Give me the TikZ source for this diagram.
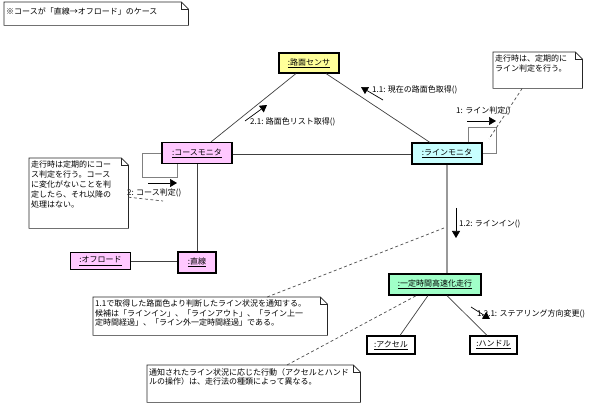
\documentclass[tikz,border=0pt]{standalone}
\usepackage{fontspec}
\setmainfont{Noto Sans CJK JP}
\usetikzlibrary{arrows.meta,calc}
\definecolor{cyel}{HTML}{FFFF99}
\definecolor{cpink}{HTML}{FFC8FF}
\definecolor{ccyan}{HTML}{C8FFFF}
\definecolor{cgreen}{HTML}{A0FFC8}
\tikzset{
 obj/.style={draw=black, line width=1.1pt, inner sep=0pt, font=\fontsize{8}{9.5}\selectfont},
 conn/.style={draw=black!75, line width=0.7pt},
 gline/.style={draw=black!40, line width=1.5pt},
 loopln/.style={draw=black!50, line width=0.9pt},
 msg/.style={draw=black, line width=0.7pt, -{Triangle[length=7pt,width=8pt]}},
 lbl/.style={anchor=west, inner sep=0pt, font=\fontsize{8}{9.5}\selectfont},
 note/.style={anchor=north west, inner sep=2pt, font=\fontsize{8}{9.4}\selectfont},
 notebd/.style={draw=black!85, line width=0.7pt},
 anchorln/.style={draw=black!70, line width=0.7pt, dash pattern=on 3pt off 2.5pt},
}
\newcommand\dogear[1]{%
 \draw[notebd] (#1.north west) -- ([xshift=-7pt]#1.north east) -- ([yshift=-7pt]#1.north east) -- (#1.south east) -- (#1.south west) -- cycle;
 \draw[notebd] ([xshift=-7pt]#1.north east) -- ([xshift=-7pt,yshift=-7pt]#1.north east) -- ([yshift=-7pt]#1.north east);}
\begin{document}
\begin{tikzpicture}[x=1pt,y=-1pt]
\useasboundingbox[fill=white] (0,0) rectangle (592,411);

% objects
\node[obj, fill=cyel, minimum width=60pt, minimum height=20pt] (rs) at (309,63) {\underline{:路面センサ}};
\node[obj, fill=cpink, minimum width=70pt, minimum height=21pt] (cm) at (197,153) {\underline{:コースモニタ}};
\node[obj, fill=ccyan, minimum width=70pt, minimum height=21pt] (lm) at (447,153.5) {\underline{:ラインモニタ}};
\node[obj, fill=cpink, minimum width=60pt, minimum height=17pt] (of) at (100.5,261) {\underline{:オフロード}};
\node[obj, fill=cpink, minimum width=38pt, minimum height=21pt] (st) at (197,262.5) {\underline{:直線}};
\node[obj, fill=cgreen, minimum width=92pt, minimum height=21pt] (ik) at (435,284.5) {\underline{:一定時間高速化走行}};
\node[obj, fill=white, minimum width=48pt, minimum height=18pt] (ac) at (391,345) {\underline{:アクセル}};
\node[obj, fill=white, minimum width=47pt, minimum height=18pt] (hd) at (493.5,345) {\underline{:ハンドル}};

% connectors
\draw[conn] ([xshift=-13pt]rs.south) -- ([xshift=14pt]cm.north);
\draw[conn] ([xshift=17pt]rs.south) -- ([xshift=-17pt]lm.north);
\draw[conn] ([yshift=-1.5pt]cm.east) -- ([yshift=-1.5pt]cm.east -| lm.west);
\draw[conn] (cm.south) -- (st.north);
\draw[conn] (of.east) -- (of.east -| st.west);
\draw[gline] (lm.south) -- (lm.south |- ik.north);
\draw[conn] ([xshift=-7pt]ik.south) -- ([xshift=9pt]ac.north);
\draw[conn] ([xshift=12pt]ik.south) -- ([xshift=-6.5pt]hd.north);

% self loops
\draw[loopln] (cm.west) -- ++(-19,0) -- ++(0,24) -| ([xshift=16pt]cm.south west);
\draw[loopln] ([xshift=21pt]lm.north) -- ++(0,-15) -- ++(28,0) |- (lm.east);

% messages
\coordinate (m2a) at (148,183); \coordinate (m2b) at (177,183);
\draw[msg] (m2a) -- (m2b);
\node[lbl] (l2) at (127,193) {2: コース判定()};

\coordinate (m1a) at (467,121); \coordinate (m1b) at (496,121);
\draw[msg] (m1a) -- (m1b);
\node[lbl] (l1) at (456,111) {1: ライン判定()};

\coordinate (m21a) at (245,121); \coordinate (m21b) at (267,105);
\draw[msg] (m21a) -- (m21b);
\node[lbl] (l21) at (250,122) {2.1: 路面色リスト取得()};

\coordinate (m11a) at (383,100); \coordinate (m11b) at (361,87);
\draw[msg] (m11a) -- (m11b);
\node[lbl] (l11) at (372,90) {1.1: 現在の路面色取得()};

\coordinate (m12a) at (456,208); \coordinate (m12b) at (456,238);
\draw[msg] (m12a) -- (m12b);
\node[lbl] (l12) at (459,224) {1.2: ラインイン()};

\coordinate (m121a) at (471,307); \coordinate (m121b) at (490,319);
\draw[msg] (m121a) -- (m121b);
\node[lbl] (l121) at (477,314) {1.2.1: ステアリング方向変更()};

% notes
\node[note] (n0) at (4,2) {\parbox[t][19pt][t]{180pt}{\vspace*{4pt}※コースが「直線→オフロード」のケース}};
\dogear{n0}
\node[note] (nR) at (493,52) {\parbox[t][32pt][t]{85pt}{\vspace*{1pt}走行時は、定期的に\\ライン判定を行う。}};
\dogear{nR}
\node[note] (nL) at (29,158) {\parbox[t][66pt][t]{95pt}{\fontsize{8}{10}\selectfont\vspace*{1pt}走行時は定期的にコー\\ス判定を行う。コース\\に変化がないことを判\\定したら、それ以降の\\処理はない。}};
\dogear{nL}
\node[note] (nM1) at (93,297) {\parbox[t][34pt][t]{230pt}{\vspace*{1pt}1.1で取得した路面色より判断したライン状況を通知する。\\候補は「ラインイン」、「ラインアウト」、「ライン上一\\定時間経過」、「ライン外一定時間経過」である。}};
\dogear{nM1}
\node[note] (nM2) at (147,365) {\parbox[t][33pt][t]{209pt}{\vspace*{1pt}通知されたライン状況に応じた行動（アクセルとハンド\\ルの操作）は、走行法の種類によって異なる。}};
\dogear{nM2}

% note anchors
\coordinate (dR) at (489,139);
\draw[anchorln] ([xshift=-15.5pt]nR.south) -- (dR);
\coordinate (dL) at (163,201);
\draw[anchorln] ([yshift=-4pt]nL.east) -- (dL);
\coordinate (dM1) at (444,228);
\draw[anchorln] ([xshift=57pt]nM1.north) -- (dM1);
\draw[anchorln] ([xshift=140pt]nM2.north west) -- ([xshift=28pt]ik.south west);
\end{tikzpicture}
\end{document}
